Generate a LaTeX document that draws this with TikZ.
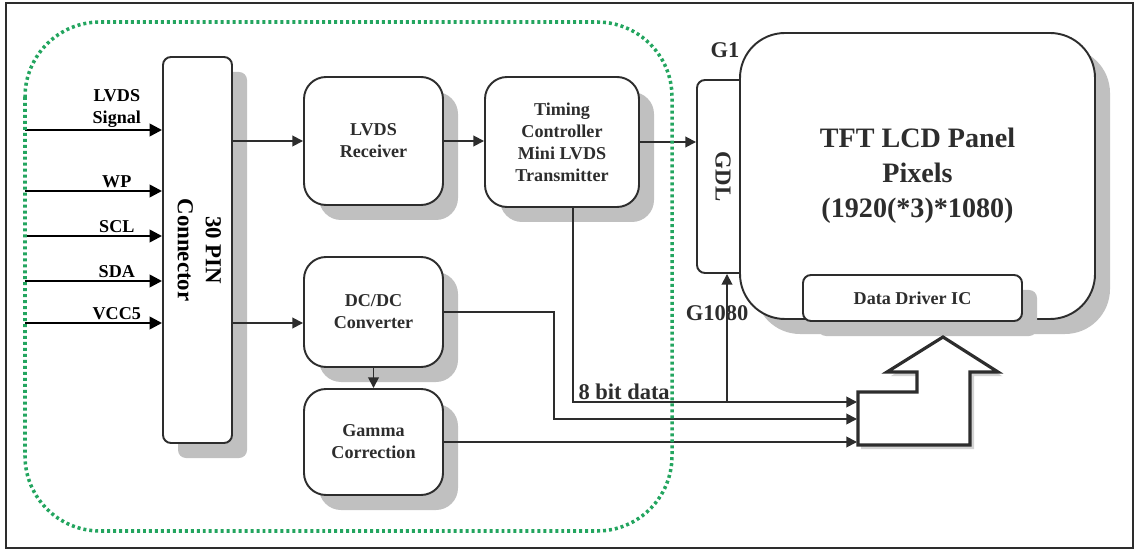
\documentclass[tikz,border=0pt]{standalone}
\usepackage{fontspec}
\setmainfont{Liberation Serif}
\usetikzlibrary{arrows.meta,positioning,calc,shadows}
\definecolor{colTrait}{RGB}{45,45,45}
\definecolor{colVert}{RGB}{35,165,95}
\definecolor{colOmbre}{RGB}{192,192,192}

\begin{document}
\begin{tikzpicture}[x=0.2mm, y=-0.2mm,
    b/.style={rectangle, rounded corners=4.4mm, draw=colTrait, line width=1.1pt,
      fill=white, align=center, text=colTrait, inner sep=2pt,
      font=\fontsize{10.3}{12.5}\selectfont\bfseries},
    om/.style={drop shadow={shadow xshift=3mm, shadow yshift=-3mm,
      fill=colOmbre, opacity=1}},
    lab/.style={font=\fontsize{12.8}{14}\selectfont\bfseries, text=colTrait,
      inner sep=1pt},
    fl/.style={-{Triangle[length=6pt,width=6pt]}, line width=1pt, colTrait},
    ent/.style={-{Triangle[length=7pt,width=7pt]}, line width=1.4pt, black}]
    \useasboundingbox (0,0) rectangle (1136,551);
    \draw[colTrait, line width=0.9pt] (6,3) rectangle (1133,548);
    % blocs
    \node[b, om, rounded corners=1.6mm, minimum width=13.8mm, minimum height=77.2mm,
      text=black, font=\fontsize{13}{16}\selectfont\bfseries] (conn) at (197.5,250)
      {\rotatebox{-90}{\begin{tabular}{@{}c@{}}30 PIN\\Connector\end{tabular}}};
    \node[b, om, minimum width=27.8mm, minimum height=25.6mm] (rcv) at (373.5,141)
      {LVDS\\Receiver};
    \node[b, om, minimum width=30.8mm, minimum height=26mm] (tcon) at (562,142)
      {Timing\\Controller\\Mini LVDS\\Transmitter};
    \node[b, om, minimum width=27.8mm, minimum height=22mm] (dcdc) at (373.5,312)
      {DC/DC\\Converter};
    \node[b, om, minimum width=27.8mm, minimum height=21.2mm] (gam) at (373.5,442)
      {Gamma\\Correction};
    \node[b, rounded corners=1.6mm, minimum width=10.4mm, minimum height=38.6mm,
      font=\fontsize{13}{15}\selectfont\bfseries] (gdl) at (723,176.5)
      {\rotatebox{-90}{GDL}};
    \node[b, om, rounded corners=9mm, minimum width=71mm, minimum height=57.2mm,
      font=\fontsize{16}{20}\selectfont\bfseries] (pan) at (917.5,176)
      {TFT LCD Panel\\Pixels\\(1920(*3)*1080)};
    \node[b, om, rounded corners=1.6mm, minimum width=43.8mm, minimum height=9.2mm]
      (ddic) at (912.5,298) {Data Driver IC};
    \node[lab] (g1) at (725,50) {G1};
    % grosse fleche vers le driver
    \coordinate (bin1) at (857,402);
    \coordinate (bin2) at (857,419);
    \coordinate (bin3) at (857,442);
    \fill[colOmbre!70] (861,449) -- (861,396) -- (921,396) -- (921,376) -- (891,376)
      -- (947,341) -- (1002,376) -- (974,376) -- (974,449) -- cycle;
    \draw[line width=1.8pt, colTrait, fill=white, line join=miter] (858,445)
      -- (858,392) -- (917,392) -- (917,372) -- (887,372) -- (943,337)
      -- (998,372) -- (970,372) -- (970,445) -- cycle;
    % entrees
    \foreach \y/\t [count=\i] in {130/{LVDS\\Signal}, 191/WP, 236/SCL, 281/SDA, 323/VCC5}{
      \coordinate (in\i) at (25,\y);
      \draw[ent] (in\i) -- node[above, pos=.67, align=center, inner sep=1pt,
        font=\fontsize{10.3}{12.5}\selectfont\bfseries] (lbl\i) {\t} (in\i -| conn.west);
    }
    % liaisons
    \draw[fl] (conn.east |- rcv.west) -- (rcv.west);
    \draw[fl] (rcv.east) -- (rcv.east -| tcon.west);
    \draw[fl] (tcon.east) -- (tcon.east -| gdl.west);
    \draw[fl] (conn.east |- in5) -- (dcdc.west |- in5);
    \draw[fl] (dcdc) -- (gam);
    \draw[fl] ([xshift=2.2mm]tcon.south) |-
      node[lab, above, pos=.59] (bits) {8 bit data} (bin1);
    \coordinate (tap) at (727,402);
    \draw[fl] (tap) -- (tap |- gdl.south);
    \node[lab] (g1080) at (717,313) {G1080};
    \coordinate (dcturn) at (554,419);
    \draw[fl] (dcdc.east) -| (dcturn) -- (bin2);
    \draw[fl] (gam.east) -- (bin3);
    % zone pointillee
    \draw[colVert, line width=2pt, dash pattern=on 1.7pt off 1.7pt,
      rounded corners=15mm] (25,22) rectangle (672,531);
  \end{tikzpicture}
\end{document}
